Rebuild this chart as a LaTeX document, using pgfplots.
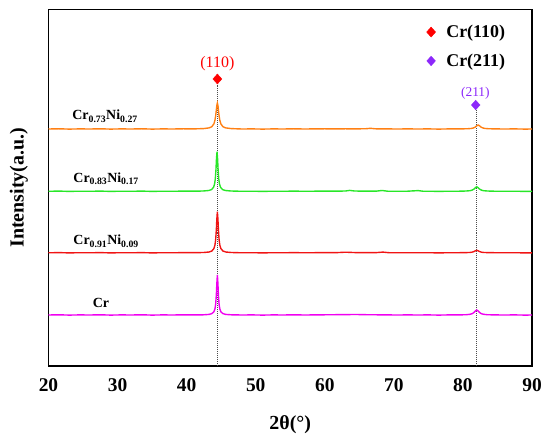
\documentclass[border=0pt]{standalone}
\usepackage{pgfplots}
\pgfplotsset{compat=1.18}
\usepackage{fontspec}
\setmainfont{Liberation Serif}
\usetikzlibrary{calc}
\definecolor{cOr}{RGB}{255,128,20}
\definecolor{cGr}{RGB}{40,230,40}
\definecolor{cRe}{RGB}{240,20,20}
\definecolor{cMa}{RGB}{240,0,240}
\definecolor{cPu}{RGB}{140,40,250}
\begin{document}
\begin{tikzpicture}
\begin{axis}[
  scale only axis, width=483.5bp, height=356.5bp,
  xmin=20, xmax=90, ymin=0, ymax=356.5,
  xtick={20,30,...,90}, ytick=\empty,
  major tick length=0pt,
  axis line style={line width=1.6pt},
  /pgf/number format/assume math mode=true,
  xticklabel style={font=\fontsize{19.5}{21}\selectfont\bfseries, yshift=-9bp},
  xlabel={\textbf{2θ(°)}},
  ylabel={\textbf{Intensity(a.u.)}},
  label style={font=\fontsize{20}{22}\selectfont},
  xlabel style={yshift=-17bp},
  ylabel style={yshift=17bp},
  legend style={at={(0.774,0.968)}, anchor=north west, draw=none, fill=none,
    font=\fontsize{18}{20}\selectfont\bfseries, row sep=11pt},
  legend image code/.code={\path (0bp,0bp) (18bp,0bp); \draw plot coordinates {(5bp,0bp)};},
  legend cell align=left,
  clip=false,
]
% annotation / legend markers
\addplot[only marks, mark=diamond*, mark size=5pt, mark options={xscale=1.2}, color=red]
  coordinates {(44.45,287)};
\addlegendentry{Cr(110)}
\addplot[only marks, mark=diamond*, mark size=4.8pt, mark options={xscale=1.2}, color=cPu]
  coordinates {(81.85,261)};
\addlegendentry{Cr(211)}
% dotted reference lines
\addplot[forget plot, black!70, line width=0.9pt, dash pattern=on 1pt off 1pt]
  coordinates {(44.45,0) (44.45,281)};
\addplot[forget plot, black!70, line width=0.9pt, dash pattern=on 1pt off 1pt]
  coordinates {(81.95,0) (81.95,256)};
% Cr (magenta)
\addplot[forget plot, cMa, line width=1.4pt] coordinates {
(20,51.0)(21.5,51.2)(23,50.9)(24.5,51.1)(26,51.0)(27.5,51.2)(29,50.9)(30.5,51.1)(32,51.0)(33.5,51.2)(35,50.9)(36.5,51.1)(38,51.0)(39.5,51.2)(41,51.1)
(42.45,51.2)(43.25,51.6)(43.65,52.4)(43.95,54.3)(44.10,57.2)(44.20,61.6)(44.30,71.0)(44.37,82.2)(44.45,91.0)(44.53,82.2)(44.60,71.0)(44.70,61.6)(44.80,57.2)(44.95,54.3)(45.25,52.4)(45.65,51.6)(46.45,51.2)
(48,51.0)(49.5,51.1)(51,50.9)(52.5,51.1)(54,51.0)(55.5,51.2)(57,51.0)(58.5,51.1)(60,51.2)(61.5,51.3)(63,51.4)(64.5,51.5)(66,51.3)(67.5,51.2)(69,51.1)(70.5,51.0)(72,51.1)(73.5,51.0)(75,51.1)(76.5,50.9)(78,51.1)
(79.5,51.1)(80.5,51.3)(81,51.7)(81.3,52.2)(81.6,53.5)(81.8,55.0)(82,56.0)(82.2,55.0)(82.4,53.5)(82.7,52.2)(83,51.7)(83.5,51.3)(84.5,51.1)(86,51.0)(87.5,51.1)(89,50.9)(90,51.0)};
% Cr0.91Ni0.09 (red)
\addplot[forget plot, cRe, line width=1.4pt] coordinates {
(20,113.2)(21.5,113.4)(23,113.1)(24.5,113.3)(26,113.2)(27.5,113.4)(29,113.1)(30.5,113.3)(32,113.2)(33.5,113.4)(35,113.1)(36.5,113.3)(38,113.2)(39.5,113.4)(41,113.3)
(42.45,113.5)(43.25,114.0)(43.65,115.0)(43.95,117.5)(44.10,121.0)(44.20,126.2)(44.30,136.2)(44.37,146.8)(44.45,154.2)(44.53,146.8)(44.60,136.2)(44.70,126.2)(44.80,121.0)(44.95,117.5)(45.25,115.0)(45.65,114.0)(46.45,113.5)
(48,113.2)(49.5,113.3)(51,113.1)(52.5,113.3)(54,113.2)(55.5,113.4)(57,113.2)(58.5,113.3)(60,113.4)(61.5,113.3)(63,113.8)(64.5,113.4)(66,113.3)(67.5,113.4)(68.4,113.9)(69.3,113.3)(70.5,113.2)(72,113.3)(73.5,113.2)(75,113.3)(76.5,113.1)(78,113.3)
(79.5,113.3)(80.5,113.4)(81,113.55)(81.3,113.8)(81.6,114.45)(81.8,115.2)(82,115.7)(82.2,115.2)(82.4,114.45)(82.7,113.8)(83,113.55)(83.5,113.4)(84.5,113.3)(86,113.2)(87.5,113.3)(89,113.1)(90,113.2)};
% Cr0.83Ni0.17 (green)
\addplot[forget plot, cGr, line width=1.4pt] coordinates {
(20,174.7)(21.5,174.9)(23,174.6)(24.5,174.8)(26,174.7)(27.5,174.9)(29,174.6)(30.5,174.8)(32,174.7)(33.5,174.9)(35,174.6)(36.5,174.8)(38,174.7)(39.5,174.9)(41,174.8)
(42.40,175.0)(43.20,175.5)(43.60,176.4)(43.90,178.8)(44.05,182.2)(44.15,187.2)(44.25,196.9)(44.32,207.1)(44.40,214.2)(44.48,207.1)(44.55,196.9)(44.65,187.2)(44.75,182.2)(44.90,178.8)(45.20,176.4)(45.60,175.5)(46.40,175.0)
(48,174.7)(49.5,174.8)(51,174.6)(52.5,174.8)(54,174.7)(55.5,174.9)(57,174.7)(58.5,174.8)(60,174.9)(61.5,174.8)(63,175.0)(63.6,175.6)(64.3,175.0)(66,174.8)(67.5,174.9)(68.3,175.5)(69.1,174.8)(70.5,174.7)(72,174.8)(73.5,175.4)(74.2,174.8)(75,174.8)(76.5,174.6)(78,174.8)
(79.5,174.8)(80.5,175.0)(81,175.3)(81.3,175.8)(81.6,176.95)(81.8,178.3)(82,179.2)(82.2,178.3)(82.4,176.95)(82.7,175.8)(83,175.3)(83.5,175.0)(84.5,174.8)(86,174.7)(87.5,174.8)(89,174.6)(90,174.7)};
% Cr0.73Ni0.27 (orange)
\addplot[forget plot, cOr, line width=1.4pt] coordinates {
(20,237.0)(21.5,237.2)(23,236.9)(24.5,237.1)(26,237.0)(27.5,237.2)(29,236.9)(30.5,237.1)(32,237.0)(33.5,237.2)(35,236.9)(36.5,237.1)(38,237.0)(39.5,237.2)(41,237.1)
(42.45,237.4)(43.25,238.1)(43.65,239.3)(43.95,242.2)(44.10,245.8)(44.20,250.0)(44.30,256.1)(44.37,260.6)(44.45,263.0)(44.53,260.6)(44.60,256.1)(44.70,250.0)(44.80,245.8)(44.95,242.2)(45.25,239.3)(45.65,238.1)(46.45,237.4)
(48,237.0)(49.5,237.1)(51,236.9)(52.5,237.1)(54,237.0)(55.5,237.2)(57,237.0)(58.5,237.1)(60,237.2)(61.5,237.1)(63,237.2)(64.5,237.1)(66,237.3)(66.6,237.7)(67.3,237.2)(69,237.1)(70.5,237.0)(72,237.1)(73.5,237.0)(75,237.1)(76.5,236.9)(78,237.1)
(79.5,237.1)(80.7,237.26)(81.2,237.55)(81.5,238.0)(81.8,239.0)(82.0,240.2)(82.2,241.0)(82.4,240.2)(82.6,239.0)(82.9,238.0)(83.2,237.55)(83.7,237.26)(84.7,237.1)(86,237.0)(87.5,237.1)(89,236.9)(90,237.0)};
% annotations
\node[anchor=base, font=\fontsize{16}{18}\selectfont, text=red] at (axis cs:44.45,298) {(110)};
\node[anchor=base, font=\fontsize{13.5}{15}\selectfont, text=cPu] at (axis cs:81.8,269.5) {(211)};
\node[anchor=base west, font=\fontsize{14}{16}\selectfont\bfseries] at (axis cs:22.95,246) {Cr\textsubscript{0.73}Ni\textsubscript{0.27}};
\node[anchor=base west, font=\fontsize{14}{16}\selectfont\bfseries] at (axis cs:23.1,183.3) {Cr\textsubscript{0.83}Ni\textsubscript{0.17}};
\node[anchor=base west, font=\fontsize{14}{16}\selectfont\bfseries] at (axis cs:23.1,121) {Cr\textsubscript{0.91}Ni\textsubscript{0.09}};
\node[anchor=base west, font=\fontsize{14}{16}\selectfont\bfseries] at (axis cs:25.9,58.7) {Cr};
\end{axis}
\pgfresetboundingbox
\path[use as bounding box] ($(current axis.south west)+(-48.5bp,-77bp)$) rectangle ($(current axis.north east)+(18bp,9.5bp)$);
\end{tikzpicture}
\end{document}
